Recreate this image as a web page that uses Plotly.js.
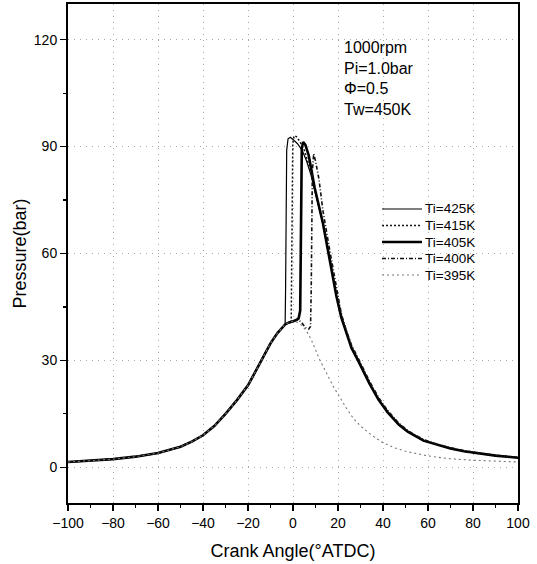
<!DOCTYPE html>
<html>
<head>
<meta charset="utf-8">
<script src="https://cdn.plot.ly/plotly-3.0.1.min.js"></script>
<style>html,body{margin:0;padding:0;background:#fff;}#chart{width:537px;height:564px;}</style>
</head>
<body>
<div id="chart"></div>
<script>
// Shared compression (motoring) part
const compX = [-100,-90,-80,-70,-60,-50,-45,-40,-35,-30,-25,-20,-15,-10,-7,-5,-3.5];
const compY = [1.5,1.8,2.3,3.0,4.0,5.8,7.2,9.0,11.6,15.0,18.8,23.0,29.0,34.8,37.6,39.2,40.1];

// Shared late expansion part for the ignited cases
const expX = [19.3,21.5,23.7,26,28.9,31.5,34,38,42,47,51,58,64,70,76,83,90,100];
const expY = [48,42,37.6,33.5,30,26.5,23.5,19,15.5,12,10,7.5,6.3,5.3,4.5,3.9,3.3,2.7];

// Ti = 425K
const t425X = [-3.3,-3.1,-2.8,-2.2,-1.2,0,2,4,6,8,10,13.3,16.3];
const t425Y = [50,75,89,92.2,92.6,92.0,90.8,89.0,86.0,82.0,77.0,68.5,58.8];
// Ti = 415K
const t415X = [-2,-0.8,-0.6,-0.4,-0.1,0.5,1.5,3,5,7,9.6,13.3,16.3];
const t415Y = [40.6,40.9,55,80,91,93,92.8,91.5,89,85,78.5,68.5,58.8];
// Ti = 405K
const t405X = [-2,-1,0,1,2.5,3.2,3.4,3.6,3.9,4.5,5.5,7,9.6,13.3,16.3];
const t405Y = [40.6,40.9,41,41.2,41.8,44,62,82,89.5,91.3,90.5,87.5,78.5,68.5,58.8];
// Ti = 400K
const t400X = [-2,-1,0,1,2.5,4,5.5,7,7.8,8.1,8.3,8.6,9.2,10,11.5,13.3,16.3,19.3,21.5,23.7,26,28.9,31.5,34,38,42,47,51,58,64,70,76,83,90,100];
const t400Y = [40.6,40.9,41,41.2,41.4,40.5,39.2,38.8,39.5,50,68,83,88,86,81,72,61,50,43,38.4,34.3,30.7,27.2,24.2,19.6,16.0,12.4,10.3,7.8,6.5,5.5,4.7,4.0,3.4,2.8];
// Ti = 395K (no ignition)
const t395X = [-2,-1,0,2,4,6,8,10,12,15,18,21,24,27,30,35,40,45,50,60,70,80,90,100];
const t395Y = [40.6,40.9,41,40.7,39.8,38.2,36,33,30,26.3,22.6,19.5,16.3,13.6,11.6,9,6.9,5.5,4.5,3.2,2.4,2.0,1.7,1.5];

const seriesNames = ['Ti=425K','Ti=415K','Ti=405K','Ti=400K','Ti=395K'];
const noteLines = ['1000rpm','Pi=1.0bar','Φ=0.5','Tw=450K'];

const FONT = 'Liberation Sans, Arial, sans-serif';

const styles = [
  {color: '#000', width: 1.2, dash: 'solid'},
  {color: '#111', width: 1.5, dash: '2px,2px'},
  {color: '#000', width: 2.6, dash: 'solid'},
  {color: '#111', width: 1.6, dash: '4px,2px,1px,2px'},
  {color: '#777', width: 1.1, dash: '2px,3px'}
];

const traces = [
  {x: compX.concat(t425X, expX), y: compY.concat(t425Y, expY)},
  {x: compX.concat(t415X, expX), y: compY.concat(t415Y, expY)},
  {x: compX.concat(t405X, expX), y: compY.concat(t405Y, expY)},
  {x: compX.concat(t400X), y: compY.concat(t400Y)},
  {x: compX.concat(t395X), y: compY.concat(t395Y)}
].map((t, i) => Object.assign({type: 'scatter', mode: 'lines', name: seriesNames[i], line: styles[i], showlegend: false}, t));

// plot-area pixel helpers (plot area: x 68..518, y 4..503)
const px = v => (v - 68) / 450;
const py = v => (503 - v) / 499;

const noteY = [48, 68, 89, 109];
const annotations = noteLines.map((txt, i) => ({
  text: txt, xref: 'paper', yref: 'paper',
  x: px(342), y: py(noteY[i]),
  xanchor: 'left', yanchor: 'middle', showarrow: false,
  font: {family: FONT, size: 16, color: '#000'}
}));

// manual legend (tighter row spacing than Plotly's built-in legend allows)
const legY = [209, 225.5, 242, 258.5, 275];
const shapes = [];
seriesNames.forEach((n, i) => {
  shapes.push({type: 'line', xref: 'paper', yref: 'paper',
    x0: px(382), x1: px(422), y0: py(legY[i]), y1: py(legY[i]),
    line: styles[i]});
  annotations.push({text: n, xref: 'paper', yref: 'paper',
    x: px(424), y: py(legY[i]), xanchor: 'left', yanchor: 'middle', showarrow: false,
    borderpad: 0,
    font: {family: FONT, size: 13.5, color: '#000'}});
});

const axisCommon = {
  showline: true, linewidth: 2, linecolor: '#000', mirror: true,
  ticks: 'outside', ticklen: 6, tickwidth: 1.5, tickcolor: '#000',
  showgrid: true, gridcolor: '#a8a8a8', gridwidth: 1, griddash: '1px,5px',
  zeroline: false,
  tickfont: {family: FONT, size: 14, color: '#000'}
};

const layout = {
  width: 537, height: 564,
  margin: {l: 68, r: 19, t: 4, b: 61},
  paper_bgcolor: '#fff', plot_bgcolor: '#fff',
  showlegend: false,
  xaxis: Object.assign({}, axisCommon, {
    range: [-100, 100], tick0: -100, dtick: 20,
    minor: {dtick: 10, ticks: 'outside', ticklen: 3, tickwidth: 1.2, tickcolor: '#000', showgrid: false},
    title: {text: 'Crank Angle(°ATDC)', font: {family: FONT, size: 18, color: '#000'}, standoff: 15}
  }),
  yaxis: Object.assign({}, axisCommon, {
    range: [-10, 130], tick0: 0, dtick: 30,
    minor: {dtick: 15, ticks: 'outside', ticklen: 3, tickwidth: 1.2, tickcolor: '#000', showgrid: false},
    title: {text: 'Pressure(bar)', font: {family: FONT, size: 18, color: '#000'}, standoff: 3}
  }),
  shapes: shapes,
  annotations: annotations
};

Plotly.newPlot('chart', traces, layout, {staticPlot: true, displayModeBar: false});
</script>
</body>
</html>
